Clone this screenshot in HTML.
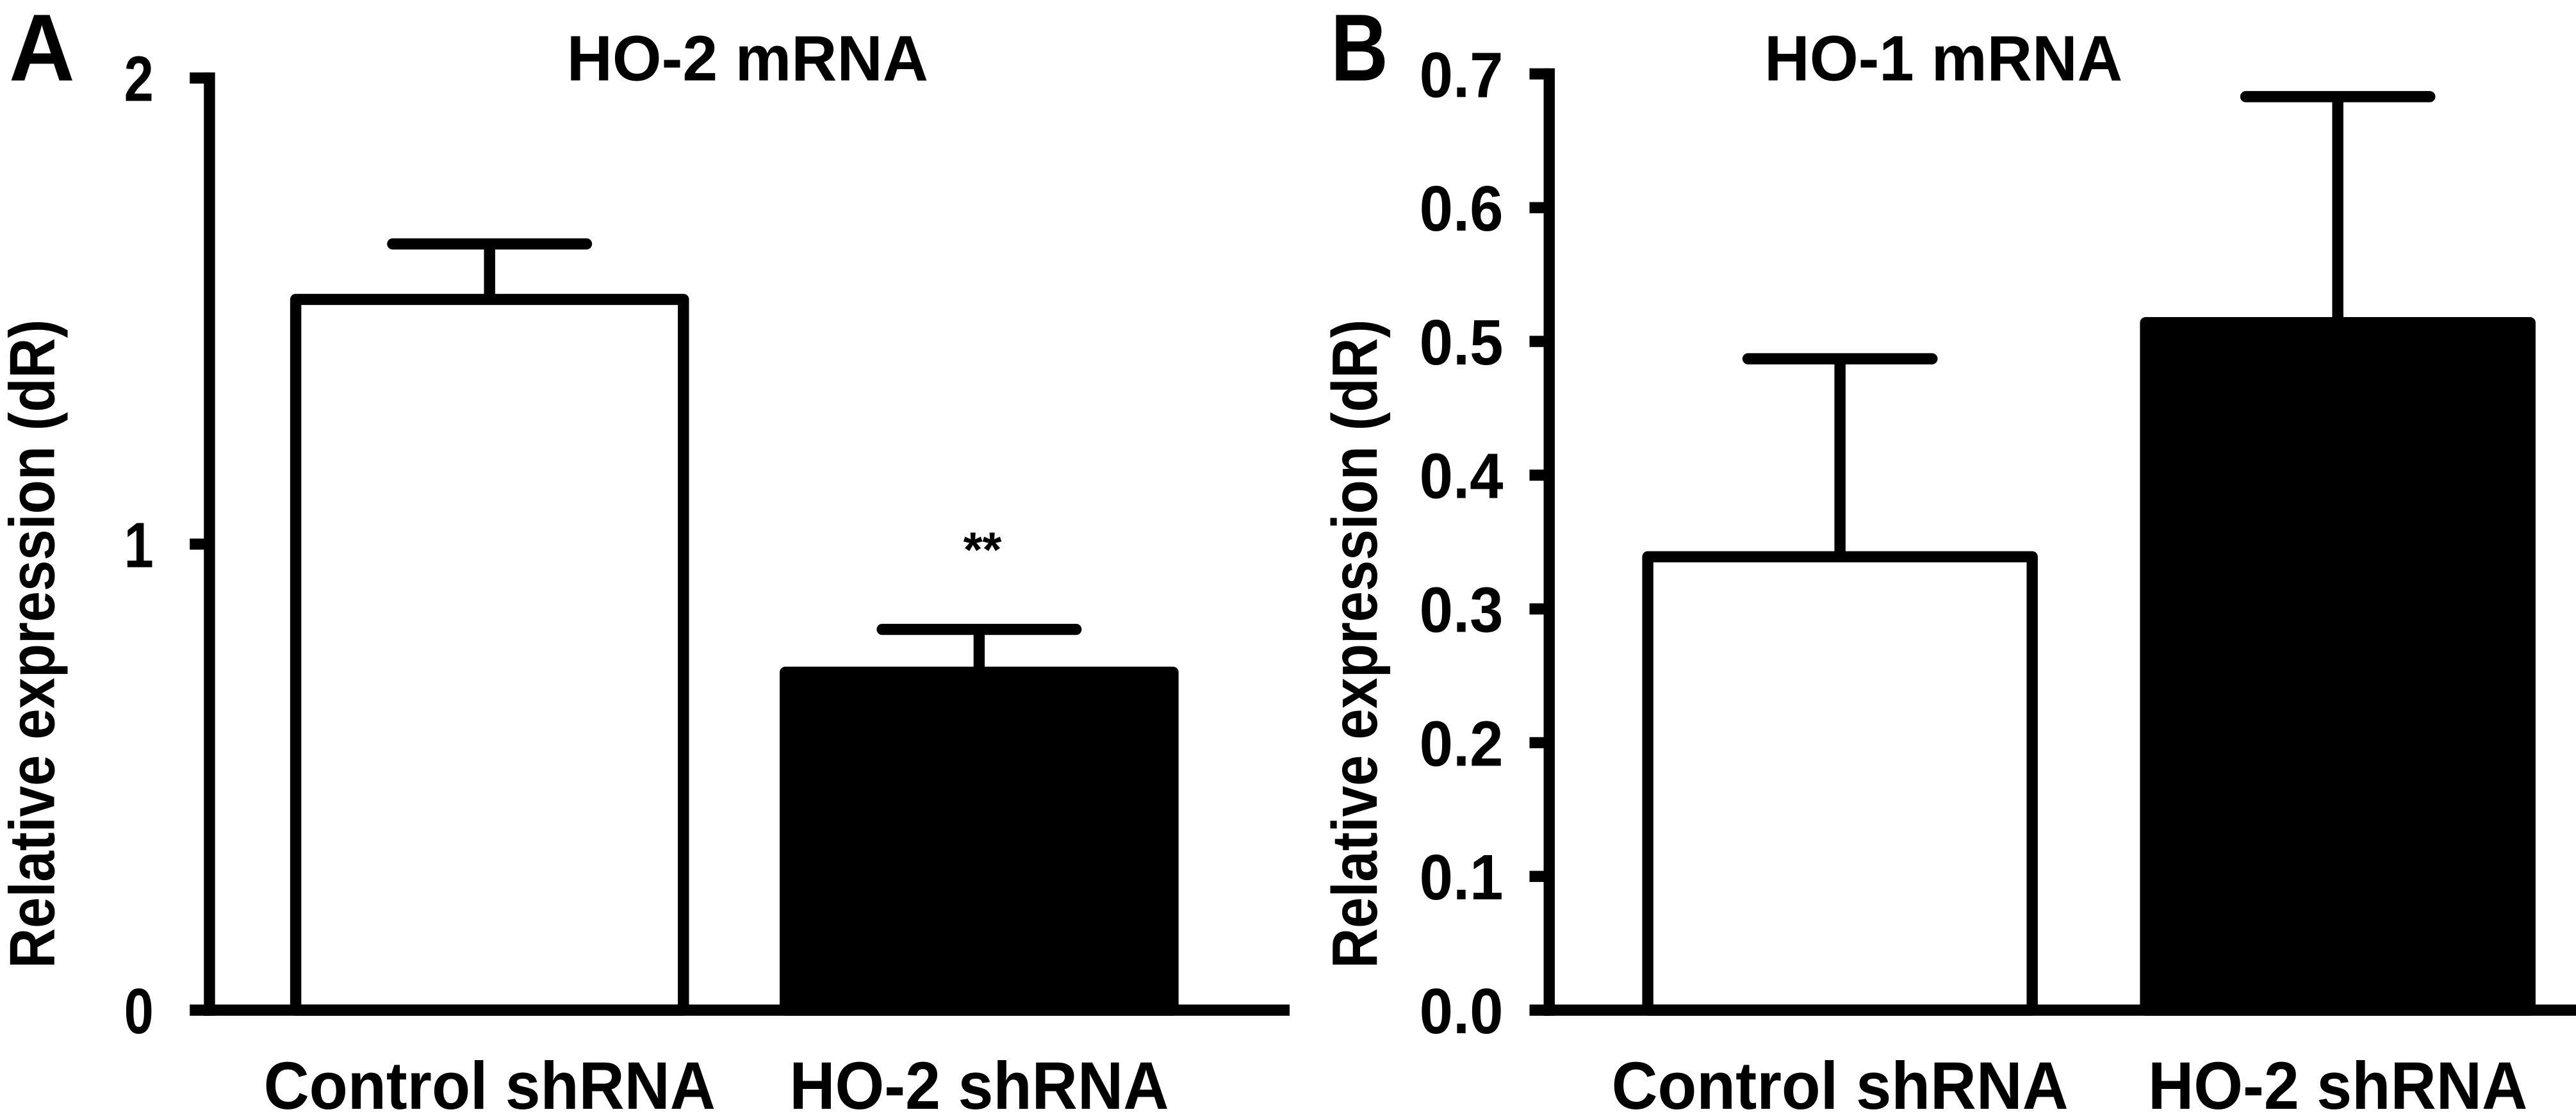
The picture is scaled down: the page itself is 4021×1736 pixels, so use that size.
<!DOCTYPE html>
<html><head><meta charset="utf-8"><style>
html,body{margin:0;padding:0;background:#fff;}
svg{display:block;}
text{font-family:"Liberation Sans",Arial,sans-serif;font-weight:bold;fill:#000;}
</style></head><body>
<svg id="fig" width="4021" height="1736" viewBox="0 0 1568 677" preserveAspectRatio="none"></svg>
<script>
const categories = ["Control shRNA", "HO-2 shRNA"];
const hoTwoValues = [1.525, 0.725];
const hoTwoErrors = [0.119, 0.092];
const hoTwoTicks = ["0", "1", "2"];
const hoTwoTickValues = [0, 1, 2];
const hoOneValues = [0.339, 0.514];
const hoOneErrors = [0.148, 0.169];
const hoOneTicks = ["0.0","0.1","0.2","0.3","0.4","0.5","0.6","0.7"];
const hoOneTickValues = [0,0.1,0.2,0.3,0.4,0.5,0.6,0.7];
const fills = ["#fff", "#000"];

const NS = "http://www.w3.org/2000/svg";
const svg = document.getElementById("fig");
function mk(tag, attrs, parent) {
  const e = document.createElementNS(NS, tag);
  for (const k in attrs) e.setAttribute(k, attrs[k]);
  (parent || svg).appendChild(e);
  return e;
}
const SW = 6.8;

function panel(cfg) {
  const g = mk("g", {});
  
  
  const y = v => cfg.base - (v - 0) / cfg.max * (cfg.base - cfg.top);
  cfg.values.forEach((v, i) => {
    const x0 = cfg.barX[i], x1 = x0 + cfg.barW, cx = (x0 + x1) / 2;
    const eTop = y(v + cfg.errors[i]);
    const err = mk("line", {x1: cx, x2: cx, y1: y(v), y2: eTop, stroke: "#000", "stroke-width": SW}, g);
    
    
    const cap = mk("line", {x1: cx - cfg.capW / 2, x2: cx + cfg.capW / 2, y1: eTop, y2: eTop, stroke: "#000", "stroke-width": SW, "stroke-linecap": "round"}, g);
    
    
    const r = mk("rect", {x: x0, y: y(v), width: cfg.barW, height: cfg.base - y(v), fill: fills[i], stroke: "#000", "stroke-width": SW, "stroke-linejoin": "round"}, g);
    
    
    const t = mk("text", {x: cx, y: 675, "font-size": 41, "text-anchor": "middle", textLength: cfg.labW[i], lengthAdjust: "spacingAndGlyphs"}, g);
    t.textContent = categories[i];
    
    
  });
  const ya = mk("line", {x1: cfg.ax, x2: cfg.ax, y1: cfg.top - SW/2, y2: cfg.base + SW/2, stroke: "#000", "stroke-width": SW}, g);
  
  
  const xa = mk("line", {x1: cfg.ax - SW/2, x2: cfg.xEnd, y1: cfg.base, y2: cfg.base, stroke: "#000", "stroke-width": SW}, g);
  
  
  cfg.tickVals.forEach((v, i) => {
    const tk = mk("line", {x1: cfg.ax - 12, x2: cfg.ax, y1: y(v), y2: y(v), stroke: "#000", "stroke-width": SW}, g);
    
    
    const tl = mk("text", {x: cfg.ax - cfg.tickOff, y: y(v) + 14, "font-size": 39, "text-anchor": "end", textLength: cfg.tickW * cfg.ticks[i].length, lengthAdjust: "spacingAndGlyphs"}, g);
    tl.textContent = cfg.ticks[i];
    
    
  });
  const yl = mk("text", {x: 0, y: 0, "font-size": 39, "text-anchor": "middle", transform: `translate(${cfg.ylX},392) rotate(-90)`, textLength: 395, lengthAdjust: "spacingAndGlyphs"}, g);
  yl.textContent = "Relative expression (dR)";
  
  
  const ti = mk("text", {x: cfg.titleX, y: 49, "font-size": 39, "text-anchor": "middle", textLength: cfg.titleW, lengthAdjust: "spacingAndGlyphs"}, g);
  ti.textContent = cfg.title;
  
  
  const pl = mk("text", {x: cfg.letterX, y: 49, "font-size": 58, textLength: cfg.letterW, lengthAdjust: "spacingAndGlyphs"}, g);
  pl.textContent = cfg.letter;
  
  
  return y;
}

panel({name: "panel-a", values: hoTwoValues, errors: hoTwoErrors, ticks: hoTwoTicks, tickVals: hoTwoTickValues,
  max: 2, top: 47.5, base: 615, ax: 127.5, xEnd: 785, barX: [180, 478], barW: 236, capW: 118,
  labW: [275, 231], tickW: 18, tickOff: 34, ylX: 33, title: "HO-2 mRNA", titleX: 455, titleW: 220, letter: "A", letterX: 5.5, letterW: 40});
const star = mk("text", {x: 598, y: 345, "font-size": 30, "text-anchor": "middle"});
star.textContent = "**";



panel({name: "panel-b", values: hoOneValues, errors: hoOneErrors, ticks: hoOneTicks, tickVals: hoOneTickValues,
  max: 0.7, top: 45, base: 615, ax: 943, xEnd: 1568, barX: [1003, 1306], barW: 234, capW: 112,
  labW: [278, 231], tickW: 17, tickOff: 28, ylX: 838, title: "HO-1 mRNA", titleX: 1183, titleW: 218, letter: "B", letterX: 810, letterW: 35});
</script>
</body></html>
